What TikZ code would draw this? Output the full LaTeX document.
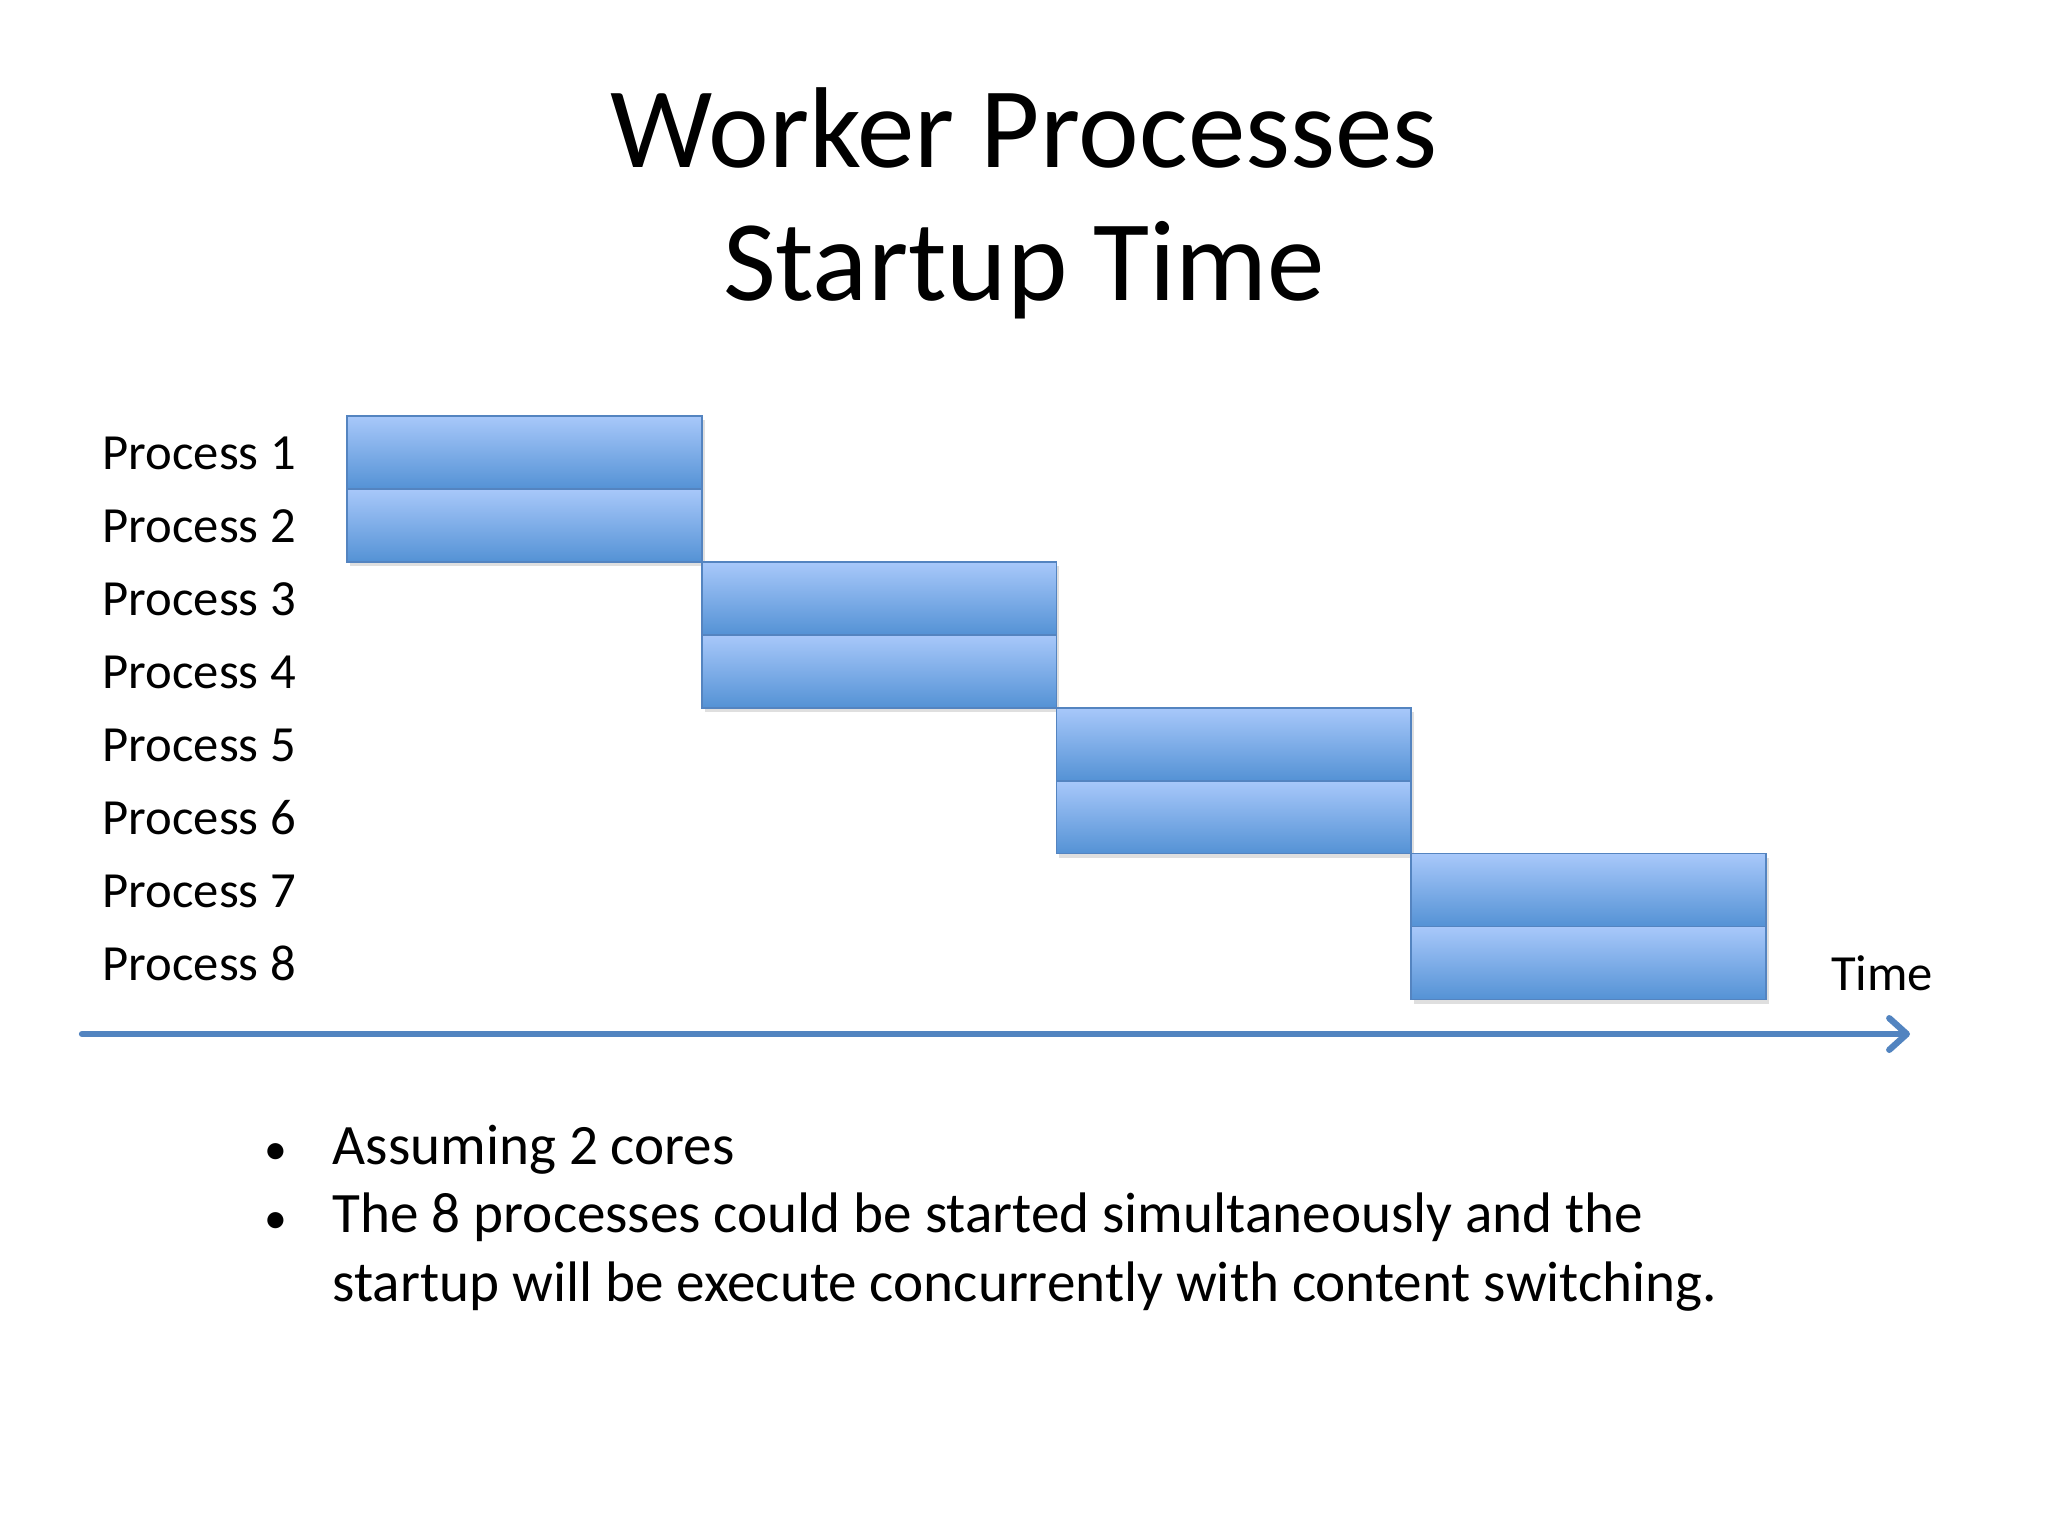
\documentclass[tikz,border=0pt]{standalone}
\usepackage{fontspec}
\setmainfont{Carlito}
\usetikzlibrary{arrows.meta,positioning,shadows}
\definecolor{barTop}{RGB}{168,200,250}
\definecolor{barBottom}{RGB}{84,146,213}
\definecolor{barEdge}{RGB}{84,132,192}
\definecolor{axisBlue}{RGB}{82,132,192}

\begin{document}
\begin{tikzpicture}[
	x=0.01cm,
	y=-0.01cm,
	node distance=0pt,
	bar/.style={
		rectangle,
		draw=barEdge,
		line width=0.45pt,
		top color=barTop,
		bottom color=barBottom,
		minimum width=3.545cm,
		minimum height=0.729cm,
		inner sep=0pt,
		outer sep=0pt,
		drop shadow={shadow xshift=0.8pt, shadow yshift=-1.2pt, opacity=0.25}
		},
	proc/.style={
		anchor=base west,
		inner sep=0pt,
		font=\fontsize{14.4}{17}\selectfont
	},
	head/.style={
		anchor=base,
		inner sep=0pt,
		font=\fontsize{32.7}{38}\selectfont
	},
	note/.style={
		anchor=base west,
		inner sep=0pt,
		align=left,
		font=\fontsize{16.25}{19.4}\selectfont
	},
	axis/.style={
		draw=axisBlue,
		line width=1.8pt,
		line cap=round,
		-{Straight Barb[length=5pt,width=9pt,line cap=round,line join=round]}
	}
]
\useasboundingbox (0,0) rectangle (2048,1536);

% Title
\node [head] (head1) at (1024,167) {Worker Processes};
\node [head] (head2) at (1024,300) {Startup Time};

% Bars
\node [bar, anchor=north west] (p1) at (347,416) {};
\node [bar, below=of p1] (p2) {};
\node [bar, below right=0pt and 0pt of p2] (p3) {};
\node [bar, below=of p3] (p4) {};
\node [bar, below right=0pt and 0pt of p4] (p5) {};
\node [bar, below=of p5] (p6) {};
\node [bar, below right=0pt and 0pt of p6] (p7) {};
\node [bar, below=of p7] (p8) {};

% Labels
\node [proc] (l1) at (102,469) {Process 1};
\node [proc] (l2) at (102,542) {Process 2};
\node [proc] (l3) at (102,615) {Process 3};
\node [proc] (l4) at (102,688) {Process 4};
\node [proc] (l5) at (102,761) {Process 5};
\node [proc] (l6) at (102,834) {Process 6};
\node [proc] (l7) at (102,907) {Process 7};
\node [proc] (l8) at (102,980) {Process 8};

% Time axis
\coordinate (t0) at (82,1034);
\coordinate (t1) at (1910,1034);
\draw [axis] (t0) -- (t1);
\node [proc, anchor=base] (time) at (1882,990) {Time};

% Notes
\node [note, anchor=base, font=\fontsize{13}{16}\selectfont] (dot1) at (276,1164) {•};
\node [note] (n1) at (332,1164) {Assuming 2 cores};
\node [note, anchor=base, font=\fontsize{13}{16}\selectfont] (dot2) at (276,1233) {•};
\node [note] (n2) at (332,1301) {The 8 processes could be started simultaneously and the\\startup will be execute concurrently with content switching.};

\end{tikzpicture}
\end{document}
